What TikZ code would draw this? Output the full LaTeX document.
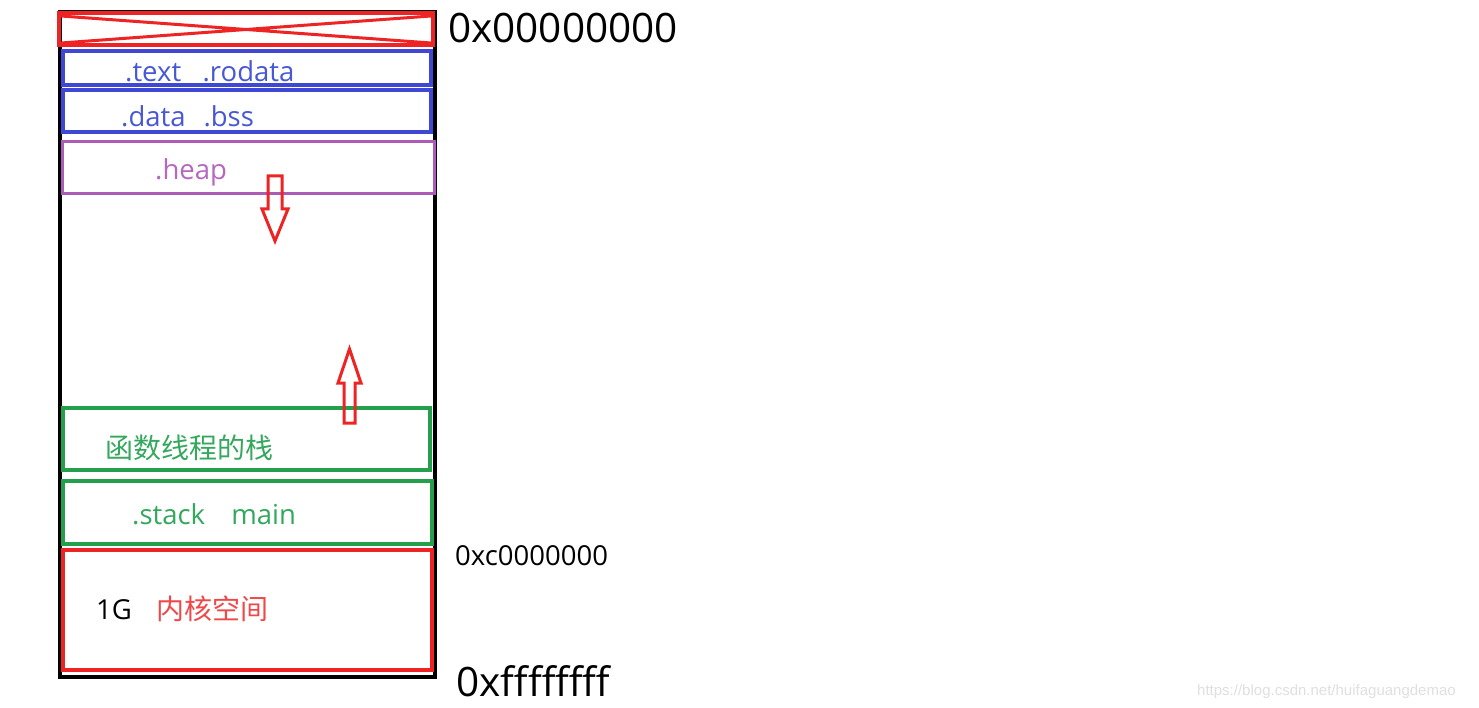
\documentclass[tikz,border=0pt]{standalone}
\usepackage{fontspec}
\setmainfont{Open Sans}
\newfontfamily\cjk{Noto Sans CJK SC}
\newfontfamily\wmfont{Liberation Sans}
\definecolor{cred}{RGB}{238,36,36}
\definecolor{cblue}{RGB}{62,72,212}
\definecolor{cpurple}{RGB}{172,92,182}
\definecolor{cgreen}{RGB}{36,160,76}
\definecolor{tblue}{RGB}{72,88,212}
\definecolor{tpurple}{RGB}{182,104,192}
\definecolor{tgreen}{RGB}{52,168,92}
\definecolor{tred}{RGB}{240,72,72}
\begin{document}
\begin{tikzpicture}[x=1pt,y=-1pt,
  seg/.style={draw, line width=3.6pt},
  lbl/.style={anchor=base west, inner sep=0pt, font=\fontsize{27.5}{32}\selectfont},
  clbl/.style={anchor=base west, inner sep=0pt, font=\cjk\fontsize{28}{32}\selectfont},
  addr/.style={anchor=base west, inner sep=0pt, text=black},
  growarrow/.style={draw=cred, line width=3pt, line join=miter}]
\useasboundingbox[fill=white] (0,0) rectangle (1479,708);
% outer frame
\draw[black, line width=3.2pt] (60,12) rectangle (435,677);
% reserved top block
\draw[seg, cred] (59,13) rectangle (433,45);
\draw[cred, line width=3pt] (61,16) -- (431,43) (61,43) -- (431,16);
% segments
\draw[seg, cblue] (63,51) rectangle (431,85);
\draw[seg, cblue] (63,90) rectangle (431,132);
\draw[cpurple, line width=3pt] (62,142) rectangle (434,194);
\draw[seg, cgreen] (63,408) rectangle (430,470);
\draw[seg, cgreen] (63,481) rectangle (432,544);
\draw[seg, cred] (63,550) rectangle (432,670);
% growth arrows
\draw[growarrow] (268,176) -- (282,176) -- (282,209) -- (288,209) -- (275,241) -- (262,209) -- (268,209) -- cycle;
\draw[growarrow] (344,423) -- (355,423) -- (355,383) -- (361,383) -- (349.5,349) -- (338,383) -- (344,383) -- cycle;
% labels
\node[lbl, text=tblue] (ttext) at (125,82) {.text\hspace{0.78em}.rodata};
\node[lbl, text=tblue] (tdata) at (121,127) {.data\hspace{0.65em}.bss};
\node[lbl, text=tpurple] (theap) at (155,180) {.heap};
\node[clbl, text=tgreen] (tthr) at (105,458) {函数线程的栈};
\node[lbl, text=tgreen] (tstack) at (132,524) {.stack\hspace{0.95em}main};
\node[lbl, text=black] (t1g) at (96,619) {1G};
\node[clbl, text=tred] (tkern) at (156,619) {内核空间};
% addresses
\node[addr, font=\fontsize{40.5}{44}\selectfont] (a0) at (448,43) {0x00000000};
\node[addr, font=\fontsize{27.5}{30}\selectfont] (ac) at (455,565) {0xc0000000};
\node[addr, font=\fontsize{40.5}{44}\selectfont] (af) at (456,696) {0xffffffff};
% watermark
\node[anchor=base west, inner sep=0pt, text=black!12, font=\wmfont\fontsize{15}{18}\selectfont] (wm) at (1197,695) {https://blog.csdn.net/huifaguangdemao};
\end{tikzpicture}
\end{document}
